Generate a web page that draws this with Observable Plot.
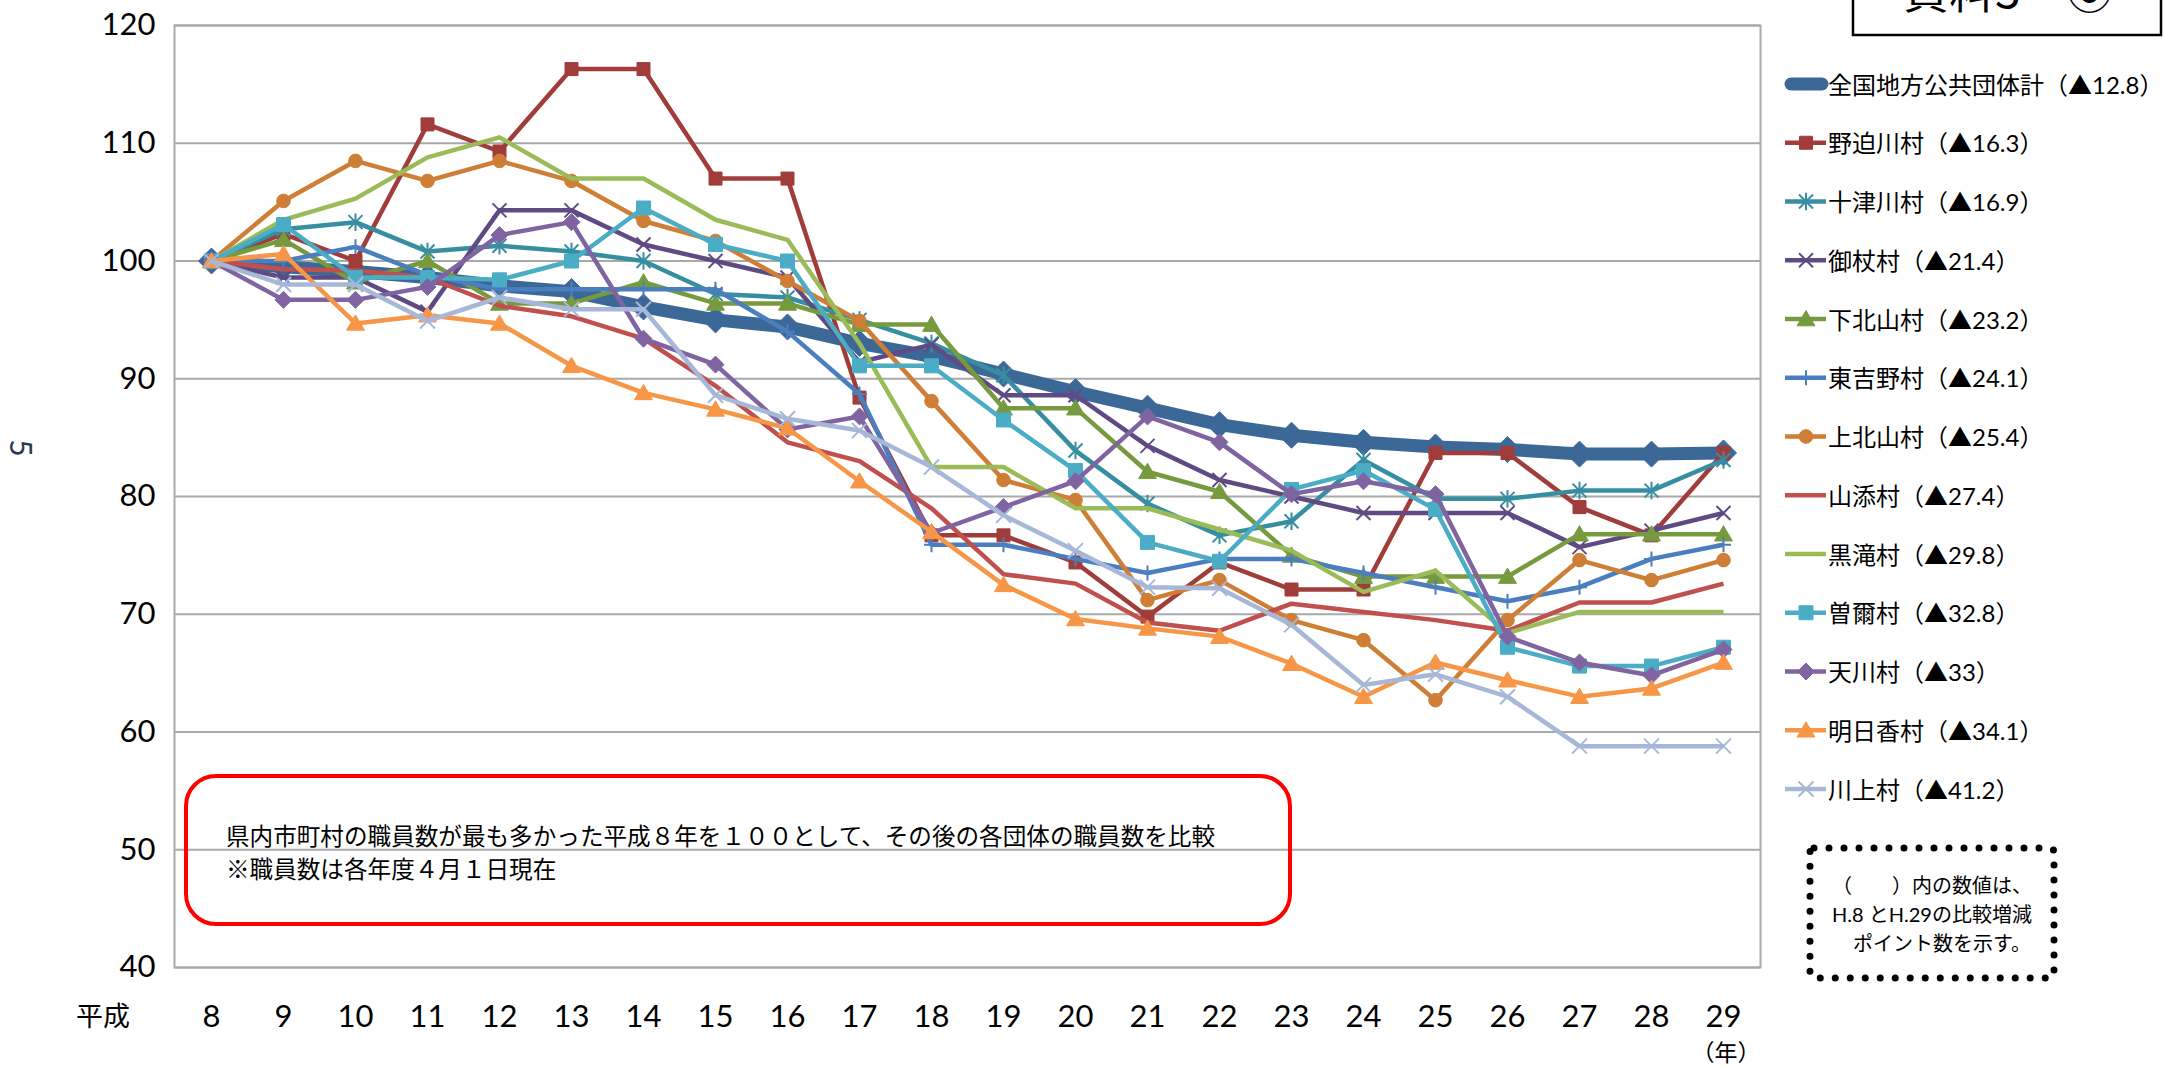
<!DOCTYPE html>
<html>
<head>
<meta charset="utf-8">
<script src="https://cdn.jsdelivr.net/npm/d3@7"></script>
<script src="https://cdn.jsdelivr.net/npm/@observablehq/plot@0.6"></script>
<style>
  html, body { margin: 0; padding: 0; background: #fff; }
  #wrap { position: relative; width: 2163px; height: 1067px; overflow: hidden; background: #fff; }
  #wrap > * { position: absolute; left: 0; top: 0; }
</style>
</head>
<body>
<div id="wrap"></div>
<script>
// ---------- data ----------
const years = [8, 9, 10, 11, 12, 13, 14, 15, 16, 17, 18, 19, 20, 21, 22, 23, 24, 25, 26, 27, 28, 29];
const yTicks = [40, 50, 60, 70, 80, 90, 100, 110, 120];
const seriesNames = [
  "全国地方公共団体計（▲12.8）", "野迫川村（▲16.3）", "十津川村（▲16.9）", "御杖村（▲21.4）",
  "下北山村（▲23.2）", "東吉野村（▲24.1）", "上北山村（▲25.4）", "山添村（▲27.4）",
  "黒滝村（▲29.8）", "曽爾村（▲32.8）", "天川村（▲33）", "明日香村（▲34.1）", "川上村（▲41.2）"
];
const zenkoku        = [100, 99.5, 99.1, 98.6, 97.9, 97.4, 96.1, 95.0, 94.4, 93.0, 91.9, 90.4, 88.9, 87.5, 86.1, 85.2, 84.6, 84.2, 84.0, 83.6, 83.6, 83.7];
const nosegawa       = [100, 102.3, 100.0, 111.6, 109.3, 116.3, 116.3, 107.0, 107.0, 88.4, 76.7, 76.7, 74.4, 69.8, 74.4, 72.1, 72.1, 83.7, 83.7, 79.1, 76.7, 83.7];
const totsukawa      = [100, 102.7, 103.3, 100.8, 101.3, 100.8, 100.0, 97.2, 96.9, 95.0, 93.0, 90.3, 83.9, 79.4, 76.7, 77.9, 83.1, 79.8, 79.8, 80.5, 80.5, 83.1];
const mitsue         = [100, 98.6, 98.6, 95.7, 104.3, 104.3, 101.4, 100.0, 98.6, 91.4, 92.9, 88.6, 88.6, 84.3, 81.4, 80.0, 78.6, 78.6, 78.6, 75.7, 77.1, 78.6];
const shimokitayama  = [100, 101.8, 98.2, 100.0, 96.4, 96.4, 98.2, 96.4, 96.4, 94.6, 94.6, 87.5, 87.5, 82.1, 80.4, 75.0, 73.2, 73.2, 73.2, 76.8, 76.8, 76.8];
const higashiyoshino = [100, 100.0, 101.2, 98.8, 97.6, 97.6, 97.6, 97.6, 94.0, 88.7, 75.9, 75.9, 74.7, 73.5, 74.7, 74.7, 73.5, 72.3, 71.1, 72.3, 74.7, 75.9];
const kamikitayama   = [100, 105.1, 108.5, 106.8, 108.5, 106.8, 103.4, 101.7, 98.3, 94.9, 88.1, 81.4, 79.7, 71.2, 72.9, 69.5, 67.8, 62.7, 69.5, 74.6, 72.9, 74.6];
const yamazoe        = [100, 99.3, 99.2, 98.6, 96.2, 95.3, 93.4, 89.4, 84.6, 83.0, 79.0, 73.4, 72.6, 69.3, 68.6, 70.9, 70.2, 69.5, 68.6, 71.0, 71.0, 72.6];
const kurotaki       = [100, 103.5, 105.3, 108.8, 110.5, 107.0, 107.0, 103.5, 101.8, 93.0, 82.5, 82.5, 79.0, 79.0, 77.2, 75.4, 71.9, 73.7, 68.4, 70.2, 70.2, 70.2];
const soni           = [100, 103.1, 98.6, 98.6, 98.4, 100.0, 104.5, 101.4, 100.0, 91.1, 91.1, 86.5, 82.2, 76.1, 74.5, 80.6, 82.2, 78.9, 67.2, 65.6, 65.6, 67.2];
const tenkawa        = [100, 96.7, 96.7, 97.8, 102.2, 103.3, 93.4, 91.2, 85.7, 86.8, 76.9, 79.1, 81.3, 86.8, 84.6, 80.2, 81.3, 80.2, 68.1, 65.9, 64.8, 67.0];
const asuka          = [100, 100.6, 94.7, 95.4, 94.7, 91.1, 88.8, 87.4, 85.8, 81.3, 77.0, 72.5, 69.6, 68.8, 68.1, 65.8, 63.0, 65.9, 64.4, 63.0, 63.7, 65.9];
const kawakami       = [100, 98.0, 98.0, 94.9, 96.9, 95.9, 95.9, 88.6, 86.6, 85.6, 82.5, 78.4, 75.4, 72.3, 72.2, 69.1, 64.0, 64.9, 63.0, 58.8, 58.8, 58.8];
const seriesValues = [zenkoku, nosegawa, totsukawa, mitsue, shimokitayama, higashiyoshino, kamikitayama, yamazoe, kurotaki, soni, tenkawa, asuka, kawakami];

// ---------- styles ----------
const styles = [
  {color: "#3C6898", width: 13, marker: "diamond", r: 13, legendR: 6},
  {color: "#A03C3A", width: 4.5, marker: "square", r: 6.5},
  {color: "#378EA1", width: 4.5, marker: "asterisk", r: 7},
  {color: "#5F4A84", width: 4.5, marker: "x", r: 7},
  {color: "#789A3E", width: 4.5, marker: "triangle", r: 8.5},
  {color: "#4A7EBF", width: 4.5, marker: "plus", r: 7.5},
  {color: "#CF7E36", width: 4.5, marker: "circle", r: 6.8},
  {color: "#C0504D", width: 4.5, marker: null},
  {color: "#9BBB59", width: 4.5, marker: null},
  {color: "#4BACC6", width: 4.5, marker: "square", r: 7},
  {color: "#8064A2", width: 4.5, marker: "diamond", r: 8.5},
  {color: "#F79646", width: 4.5, marker: "triangle", r: 8.5},
  {color: "#A7B7D7", width: 4.5, marker: "x", r: 7.5}
];
const strokeMarkers = new Set(["x", "plus", "asterisk"]);

function drawMarker(kind, ctx, r) {
  switch (kind) {
    case "square": ctx.rect(-r, -r, 2 * r, 2 * r); break;
    case "diamond": ctx.moveTo(0, -r); ctx.lineTo(r, 0); ctx.lineTo(0, r); ctx.lineTo(-r, 0); ctx.closePath(); break;
    case "triangle": ctx.moveTo(0, -r); ctx.lineTo(r * 1.05, r * 0.8); ctx.lineTo(-r * 1.05, r * 0.8); ctx.closePath(); break;
    case "circle": ctx.moveTo(r, 0); ctx.arc(0, 0, r, 0, 2 * Math.PI); ctx.closePath(); break;
    case "x": ctx.moveTo(-r, -r); ctx.lineTo(r, r); ctx.moveTo(r, -r); ctx.lineTo(-r, r); break;
    case "plus": ctx.moveTo(-r, 0); ctx.lineTo(r, 0); ctx.moveTo(0, -r); ctx.lineTo(0, r); break;
    case "asterisk": ctx.moveTo(-r, -r); ctx.lineTo(r, r); ctx.moveTo(r, -r); ctx.lineTo(-r, r); ctx.moveTo(0, -r * 1.25); ctx.lineTo(0, r * 1.25); break;
  }
}
function symbolOf(kind) {
  return {draw(ctx, size) { drawMarker(kind, ctx, Math.sqrt(size / Math.PI)); }};
}

// tidy table built from the arrays
const rows = seriesNames.flatMap((name, si) => years.map((yr, i) => ({series: name, year: yr, value: seriesValues[si][i]})));

const W = 2163, H = 1067;
const frame = {left: 174, right: 1760, top: 25, bottom: 967};
const marks = [
  Plot.ruleY(yTicks, {stroke: "#a9a9a9", strokeWidth: 2}),
  Plot.frame({stroke: "#a9a9a9", strokeWidth: 2})
];
seriesNames.forEach((name, si) => {
  const st = styles[si];
  marks.push(Plot.line(rows, {filter: d => d.series === name, x: "year", y: "value",
    stroke: st.color, strokeWidth: st.width, strokeLinejoin: "round", strokeLinecap: "butt"}));
  if (st.marker) {
    const isStroke = strokeMarkers.has(st.marker);
    marks.push(Plot.dot(rows, {filter: d => d.series === name, x: "year", y: "value",
      symbol: symbolOf(st.marker), r: st.r,
      fill: isStroke ? "none" : st.color, stroke: st.color, strokeWidth: isStroke ? 2 : 1}));
  }
});

const chart = Plot.plot({
  width: W, height: H,
  marginLeft: frame.left, marginRight: W - frame.right, marginTop: frame.top, marginBottom: H - frame.bottom,
  style: {fontFamily: "Lato, 'Noto Sans CJK JP', sans-serif", fontSize: "31px", color: "#000", background: "transparent", overflow: "visible"},
  x: {type: "point", domain: years, padding: 0.5, tickSize: 0, tickPadding: 37, label: null},
  y: {domain: [40, 120], ticks: yTicks, tickSize: 0, tickPadding: 19, label: null},
  marks
});
document.getElementById("wrap").appendChild(chart);

// ---------- annotations, legend ----------
const jp = "'Noto Sans CJK JP', sans-serif";
const svg = d3.select("#wrap").append("svg").attr("width", W).attr("height", H).style("pointer-events", "none");

// top-right label box (cut off at the page top, as in the original slide)
svg.append("rect").attr("x", 1853).attr("y", -60).attr("width", 308).attr("height", 95)
  .attr("fill", "#fff").attr("stroke", "#000").attr("stroke-width", 2.5);
svg.append("text").attr("x", 1903).attr("y", 8).attr("font-family", jp).attr("font-size", 46)
  .attr("fill", "#000").text("資料3　⑥");

// axis extras
svg.append("text").attr("transform", "translate(22,448) rotate(90)").attr("font-family", "Lato, sans-serif")
  .attr("font-size", 30).attr("fill", "#2b3a55").attr("text-anchor", "middle").attr("dominant-baseline", "central").text("5");
svg.append("text").attr("x", 103).attr("y", 1014).attr("font-family", jp).attr("font-size", 27)
  .attr("text-anchor", "middle").attr("dominant-baseline", "central").text("平成");
svg.append("text").attr("x", 1726).attr("y", 1051).attr("font-family", jp).attr("font-size", 23)
  .attr("text-anchor", "middle").attr("dominant-baseline", "central").text("（年）");

// red note box
svg.append("rect").attr("x", 186).attr("y", 776).attr("width", 1104).attr("height", 148).attr("rx", 30)
  .attr("fill", "none").attr("stroke", "#FF0000").attr("stroke-width", 4);
const note = svg.append("text").attr("font-family", jp).attr("font-size", 23.6).attr("fill", "#000");
note.append("tspan").attr("x", 226).attr("y", 845).text("県内市町村の職員数が最も多かった平成８年を１００として、その後の各団体の職員数を比較");
note.append("tspan").attr("x", 226).attr("y", 878).text("※職員数は各年度４月１日現在");

// legend
const legendTop = 84, legendStep = 58.75;
seriesNames.forEach((name, si) => {
  const st = styles[si];
  const y = legendTop + si * legendStep;
  const g = svg.append("g");
  if (si === 0) {
    g.append("line").attr("x1", 1791).attr("x2", 1822).attr("y1", y).attr("y2", y)
      .attr("stroke", st.color).attr("stroke-width", 13).attr("stroke-linecap", "round");
  } else {
    g.append("line").attr("x1", 1785).attr("x2", 1826).attr("y1", y).attr("y2", y)
      .attr("stroke", st.color).attr("stroke-width", st.width);
  }
  if (st.marker) {
    const p = d3.path();
    drawMarker(st.marker, p, st.legendR || st.r);
    const isStroke = strokeMarkers.has(st.marker);
    g.append("path").attr("d", p.toString()).attr("transform", `translate(1806,${y})`)
      .attr("fill", isStroke ? "none" : st.color).attr("stroke", st.color).attr("stroke-width", isStroke ? 2 : 1);
  }
  g.append("text").attr("x", 1828).attr("y", y).attr("dominant-baseline", "central")
    .attr("font-family", "Lato, 'Noto Sans CJK JP', sans-serif").attr("font-size", 24).attr("fill", "#000").text(name);
});

// dotted explanation box
svg.append("rect").attr("x", 1810).attr("y", 848).attr("width", 244).attr("height", 130).attr("rx", 4)
  .attr("fill", "none").attr("stroke", "#000").attr("stroke-width", 7)
  .attr("stroke-dasharray", "0 15").attr("stroke-linecap", "round");
const expl = svg.append("text").attr("font-family", "Lato, 'Noto Sans CJK JP', sans-serif").attr("font-size", 20)
  .attr("fill", "#000").attr("text-anchor", "middle");
expl.append("tspan").attr("x", 1932).attr("y", 893).text("（　　）内の数値は、");
expl.append("tspan").attr("x", 1932).attr("y", 922).text("H.8 とH.29の比較増減");
expl.append("tspan").attr("x", 1942).attr("y", 951).text("ポイント数を示す。");
</script>
</body>
</html>
